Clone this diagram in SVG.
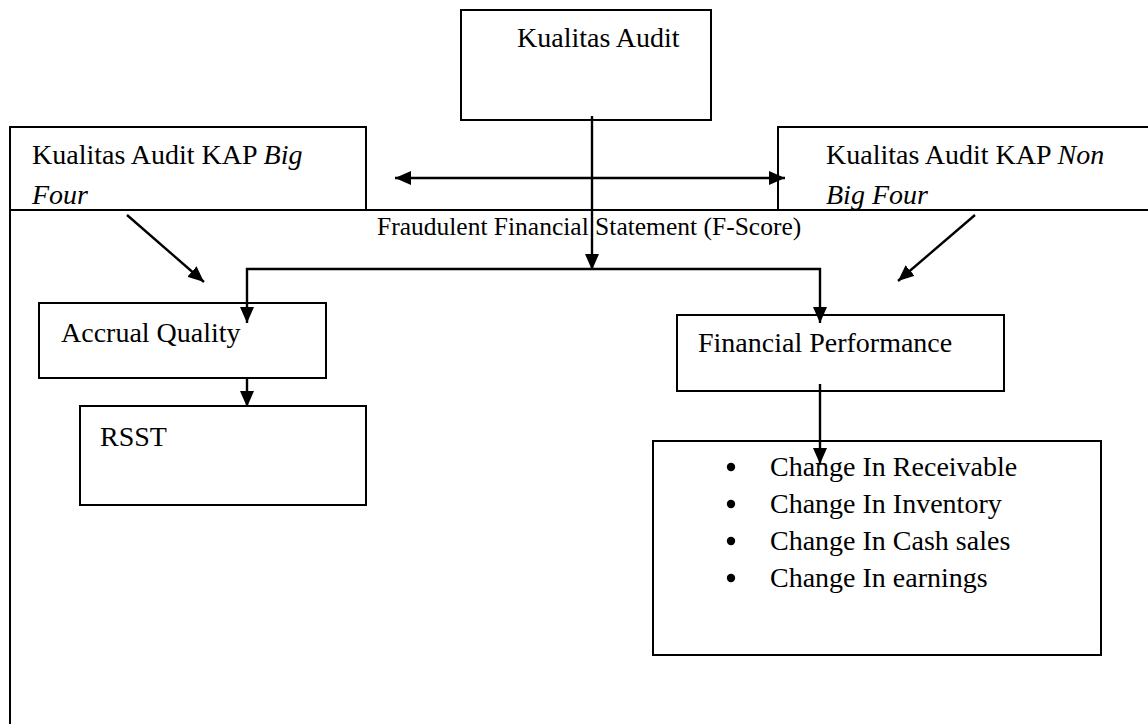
<svg xmlns="http://www.w3.org/2000/svg" width="1148" height="724" viewBox="0 0 1148 724">
<defs>
<marker id="ah" viewBox="0 0 16 14" refX="16" refY="7" markerWidth="16" markerHeight="14" markerUnits="userSpaceOnUse" orient="auto-start-reverse">
<path d="M0,0 L16,7 L0,14 Z" fill="#000"/>
</marker>
<style>
.box{fill:#fff;stroke:#000;stroke-width:2}
.frame{fill:none;stroke:#000;stroke-width:2}
.t{font-family:"Liberation Serif","Times New Roman",serif;font-size:28px;fill:#000}
.s{font-family:"Liberation Serif","Times New Roman",serif;font-size:25.5px;fill:#000}
.i{font-style:italic}
.c{fill:none;stroke:#000;stroke-width:2.4}
</style>
</defs>
<rect width="1148" height="724" fill="#fff"/>
<g id="frame">
<rect class="frame" x="10" y="210" width="1150" height="530"/>
<text class="s" x="377" y="235">Fraudulent Financial Statement (F-Score)</text>
</g>
<g id="kualitas-audit">
<rect class="box" x="461" y="10" width="250" height="110"/>
<text class="t" x="517" y="47">Kualitas Audit</text>
</g>
<g id="big-four">
<rect class="box" x="10" y="127" width="356" height="83"/>
<text class="t" x="32" y="164">Kualitas Audit KAP <tspan class="i">Big</tspan></text>
<text class="t i" x="32" y="204">Four</text>
</g>
<g id="non-big-four">
<rect class="box" x="778" y="127" width="380" height="83"/>
<text class="t" x="826" y="164">Kualitas Audit KAP <tspan class="i">Non</tspan></text>
<text class="t i" x="826" y="204">Big Four</text>
</g>
<g id="accrual-quality">
<rect class="box" x="39" y="303" width="287" height="75"/>
<text class="t" x="61" y="342">Accrual Quality</text>
</g>
<g id="rsst">
<rect class="box" x="80" y="406" width="286" height="99"/>
<text class="t" x="100" y="446">RSST</text>
</g>
<g id="financial-performance">
<rect class="box" x="677" y="315" width="327" height="76"/>
<text class="t" x="698" y="352">Financial Performance</text>
</g>
<g id="indicators">
<rect class="box" x="653" y="441" width="448" height="214"/>
<circle cx="731" cy="467" r="4.2"/>
<circle cx="731" cy="504" r="4.2"/>
<circle cx="731" cy="541" r="4.2"/>
<circle cx="731" cy="578" r="4.2"/>
<text class="t" x="770" y="476">Change In Receivable</text>
<text class="t" x="770" y="513">Change In Inventory</text>
<text class="t" x="770" y="550">Change In Cash sales</text>
<text class="t" x="770" y="587">Change In earnings</text>
</g>
<g id="connectors">
<line class="c" x1="395" y1="178" x2="785" y2="178" marker-start="url(#ah)" marker-end="url(#ah)"/>
<line class="c" x1="592" y1="116" x2="592" y2="270" marker-end="url(#ah)"/>
<polyline class="c" points="247,323 247,269 820,269 820,323" marker-start="url(#ah)" marker-end="url(#ah)"/>
<line class="c" x1="247" y1="378" x2="247" y2="407" marker-end="url(#ah)"/>
<line class="c" x1="820" y1="384" x2="820" y2="464" marker-end="url(#ah)"/>
<line class="c" x1="127" y1="215" x2="204" y2="282" marker-end="url(#ah)"/>
<line class="c" x1="975" y1="215" x2="898" y2="281" marker-end="url(#ah)"/>
</g>
</svg>
